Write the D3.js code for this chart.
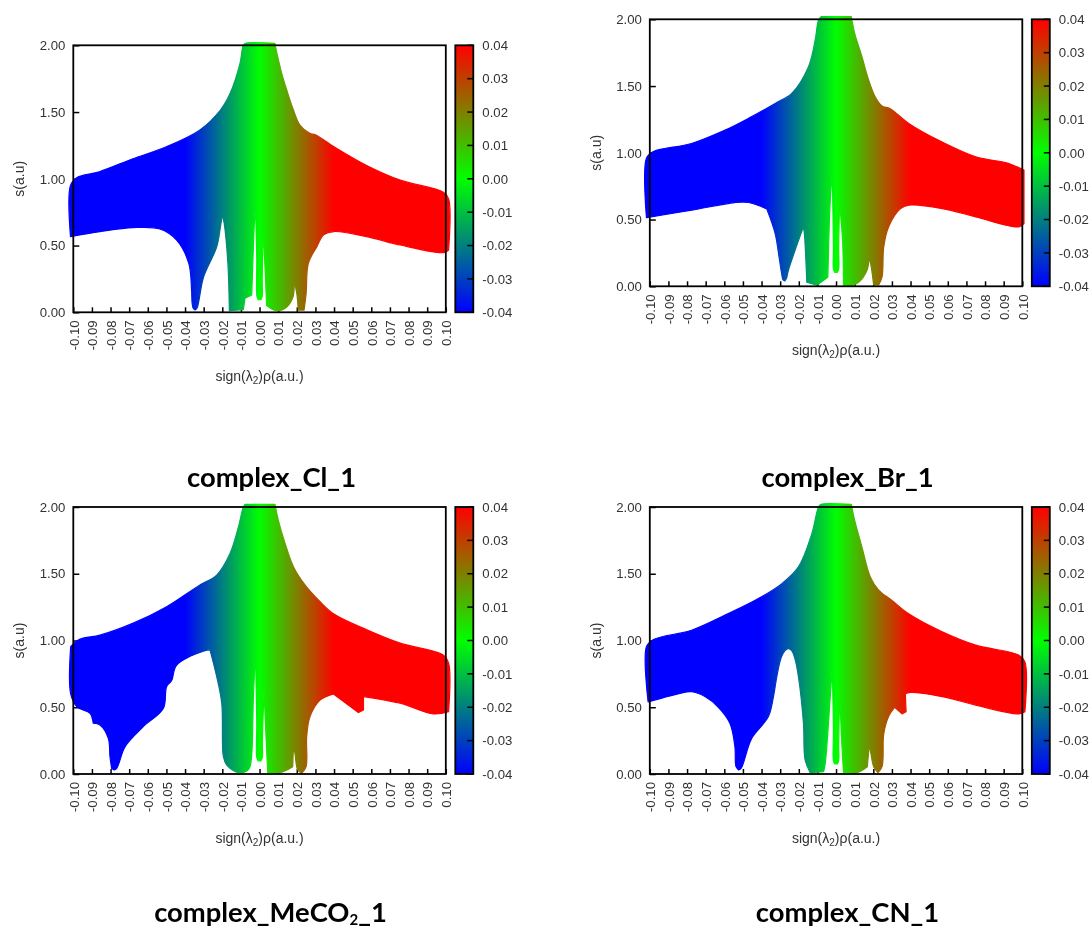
<!DOCTYPE html>
<html>
<head>
<meta charset="utf-8">
<title>complex NCI plots</title>
<script src="https://cdnjs.cloudflare.com/ajax/libs/d3/7.8.5/d3.min.js"></script>
<style>
body { margin: 0; background: #fff; }
svg { display: block; filter: blur(0.35px); }
.axis text { font-family: "Liberation Sans", Arial, sans-serif; font-size: 13.2px; fill: #333; }
.axis line { stroke: #000; stroke-width: 1.5; }
.axis path { display: none; }
.label { font-family: "Liberation Sans", Arial, sans-serif; font-size: 14px; fill: #333; }
.title { font-family: Lato, sans-serif; font-weight: 700; font-size: 27.4px; fill: #000; }
</style>
</head>
<body>
<svg id="chart" width="1089" height="927"></svg>
<script>
// ===== tick labels and palette =====
const xTicks = [-0.10,-0.09,-0.08,-0.07,-0.06,-0.05,-0.04,-0.03,-0.02,-0.01,0,0.01,0.02,0.03,0.04,0.05,0.06,0.07,0.08,0.09,0.10];
const yTicks = [0,0.5,1,1.5,2];
const cbTicks = [-0.04,-0.03,-0.02,-0.01,0,0.01,0.02,0.03,0.04];
const paletteValues = [-0.04,0,0.04];
const paletteColors = ["#0000ff","#00ff00","#ff0000"];

// ===== outline of each point cloud: [rho, s] =====
const clUpper = [[-0.1015,0.95],[-0.098,1.01],[-0.086,1.053],[-0.068,1.15],[-0.05,1.24],[-0.032,1.366],[-0.021,1.515],[-0.0158,1.64],[-0.0105,1.865],[-0.0087,2.0],[-0.0075,2.015],[0.0082,2.015],[0.0095,1.93],[0.0119,1.79],[0.0146,1.665],[0.0182,1.515],[0.0218,1.40],[0.027,1.34],[0.03,1.33],[0.04,1.24],[0.0575,1.10],[0.0755,0.99],[0.0987,0.90],[0.1015,0.85]];
const clLower = [[0.1015,0.467],[0.0987,0.447],[0.0755,0.504],[0.0575,0.567],[0.04,0.605],[0.0345,0.58],[0.0307,0.49],[0.0262,0.367],[0.025,0.14],[0.0239,0.017],[0.0208,0.017],[0.02,0.14],[0.0185,0.24],[0.018,0.117],[0.0146,0.04],[0.009,0.012],[0.0038,0.05],[0.0032,0.25],[0.002,0.62],[0.0014,0.25],[0.0014,0.12],[0.0007,0.095],[-0.0007,0.095],[-0.0014,0.12],[-0.0015,0.4],[-0.0022,0.82],[-0.003,0.6],[-0.0042,0.13],[-0.0078,0.105],[-0.0087,0.02],[-0.0162,0.012],[-0.017,0.367],[-0.019,0.667],[-0.02,0.73],[-0.021,0.64],[-0.023,0.49],[-0.03,0.267],[-0.0328,0.07],[-0.0336,0.03],[-0.0346,0.018],[-0.0356,0.03],[-0.0362,0.07],[-0.0365,0.167],[-0.038,0.367],[-0.0445,0.54],[-0.0535,0.624],[-0.068,0.634],[-0.0857,0.604],[-0.1015,0.567]];

const brUpper = [[-0.1018,0.96],[-0.098,1.01],[-0.0776,1.07],[-0.0596,1.17],[-0.047,1.258],[-0.0327,1.37],[-0.0238,1.445],[-0.0148,1.645],[-0.0112,1.845],[-0.0094,1.995],[-0.008,2.02],[0.0082,2.02],[0.01,1.895],[0.0139,1.72],[0.0175,1.545],[0.021,1.42],[0.0247,1.35],[0.0291,1.33],[0.039,1.22],[0.057,1.08],[0.075,0.97],[0.0928,0.92],[0.1009,0.87]];
const brLower = [[0.1009,0.47],[0.0982,0.445],[0.075,0.52],[0.057,0.5825],[0.039,0.6075],[0.0345,0.58],[0.0282,0.445],[0.0256,0.295],[0.0247,0.07],[0.0229,0.01],[0.0202,0.01],[0.0189,0.145],[0.0178,0.22],[0.0166,0.12],[0.0121,0.03],[0.0067,0.0],[0.004,0.0],[0.0035,0.345],[0.0019,0.62],[0.0014,0.295],[0.0014,0.13],[0.0007,0.105],[-0.0007,0.105],[-0.0014,0.13],[-0.0014,0.295],[-0.002,0.845],[-0.0031,0.645],[-0.0044,0.07],[-0.0067,0.045],[-0.0103,0.0075],[-0.0157,0.03],[-0.017,0.395],[-0.0175,0.445],[-0.022,0.27],[-0.0256,0.12],[-0.0266,0.06],[-0.0275,0.04],[-0.0285,0.05],[-0.0291,0.085],[-0.0306,0.22],[-0.0327,0.395],[-0.0372,0.58],[-0.047,0.6275],[-0.0543,0.6275],[-0.0776,0.57],[-0.1018,0.515]];

const mecoUpper = [[-0.1014,0.954],[-0.0964,1.01],[-0.0857,1.04],[-0.0678,1.13],[-0.0499,1.253],[-0.032,1.416],[-0.023,1.49],[-0.0158,1.653],[-0.0113,1.853],[-0.0087,2.0],[-0.0078,2.02],[0.0083,2.02],[0.0101,1.9],[0.0137,1.728],[0.0182,1.553],[0.0244,1.416],[0.0325,1.29],[0.0397,1.2],[0.0576,1.08],[0.0755,0.98],[0.0987,0.89],[0.1015,0.83]];
const mecoLower = [[0.1015,0.467],[0.0934,0.45],[0.0755,0.53],[0.0558,0.58],[0.0558,0.48],[0.0531,0.46],[0.0397,0.6],[0.0325,0.554],[0.0271,0.43],[0.0253,0.28],[0.025,0.055],[0.0226,0.005],[0.0205,0.03],[0.019,0.155],[0.0182,0.205],[0.0178,0.055],[0.011,0.01],[0.0044,0.01],[0.0038,0.18],[0.0024,0.63],[0.0015,0.23],[0.0015,0.125],[0.0007,0.098],[-0.0007,0.098],[-0.0015,0.125],[-0.0015,0.38],[-0.0022,0.93],[-0.0033,0.58],[-0.0051,0.055],[-0.0069,0.022],[-0.0114,0.01],[-0.0176,0.067],[-0.0194,0.13],[-0.0203,0.53],[-0.023,0.73],[-0.0266,0.93],[-0.0293,0.924],[-0.0445,0.816],[-0.0472,0.70],[-0.0499,0.654],[-0.0517,0.49],[-0.0624,0.355],[-0.0722,0.205],[-0.0755,0.08],[-0.0767,0.042],[-0.078,0.03],[-0.0794,0.042],[-0.0803,0.13],[-0.0812,0.267],[-0.0857,0.367],[-0.0893,0.38],[-0.091,0.454],[-0.098,0.504],[-0.1014,0.6]];

const cnUpper = [[-0.1018,0.953],[-0.098,1.007],[-0.0776,1.077],[-0.0596,1.19],[-0.0417,1.314],[-0.0291,1.426],[-0.0202,1.551],[-0.013,1.8],[-0.0094,2.0],[-0.008,2.02],[0.0082,2.02],[0.01,1.9],[0.0139,1.7],[0.0184,1.476],[0.0229,1.377],[0.03,1.3],[0.039,1.2],[0.057,1.065],[0.075,0.965],[0.0982,0.89],[0.1014,0.84]];
const cnLower = [[0.1014,0.466],[0.0982,0.45],[0.075,0.516],[0.057,0.58],[0.039,0.61],[0.0372,0.6],[0.0376,0.466],[0.0354,0.45],[0.0315,0.5],[0.0282,0.43],[0.0256,0.3],[0.0247,0.055],[0.0225,0.01],[0.0202,0.055],[0.0187,0.155],[0.0178,0.217],[0.0168,0.055],[0.0112,0.01],[0.004,0.01],[0.0031,0.23],[0.002,0.6],[0.0014,0.23],[0.0014,0.1],[0.0007,0.075],[-0.0007,0.075],[-0.0014,0.1],[-0.0014,0.33],[-0.002,0.8],[-0.0031,0.58],[-0.0058,0.08],[-0.0067,0.017],[-0.0139,0.01],[-0.0166,0.105],[-0.0175,0.38],[-0.0202,0.73],[-0.0222,0.87],[-0.0238,0.925],[-0.0256,0.94],[-0.0274,0.925],[-0.0295,0.87],[-0.0318,0.73],[-0.0336,0.58],[-0.0363,0.43],[-0.0453,0.267],[-0.0498,0.08],[-0.051,0.042],[-0.0523,0.03],[-0.0537,0.055],[-0.0543,0.205],[-0.057,0.38],[-0.0632,0.5],[-0.0704,0.58],[-0.0776,0.616],[-0.0848,0.6],[-0.1009,0.54]];

// ===== panels =====
const svg = d3.select("#chart");
const defs = svg.append("defs");
// plain hyphen on the tick labels, as in the gnuplot output
const fmt = d => d3.format(".2f")(d).replace("\u2212","-");

// catmull-rom rounds everything, so repeat the points where the outline really turns
function keepCorners(pts, xs, ys) {
    const out = [];
    pts.forEach((p,i) => {
        const a = pts[(i - 1 + pts.length) % pts.length], b = pts[(i + 1) % pts.length];
        const a1 = Math.atan2(ys(p[1]) - ys(a[1]), xs(p[0]) - xs(a[0]));
        const a2 = Math.atan2(ys(b[1]) - ys(p[1]), xs(b[0]) - xs(p[0]));
        let turn = Math.abs(a2 - a1) * 180 / Math.PI;
        if (turn > 180) turn = 360 - turn;
        out.push(p);
        if (turn > 50) out.push(p);
    });
    return out;
}

function drawPanel(id, left, top, upper, lower) {
    const width = 372.5, height = 267;
    const xs = d3.scaleLinear().domain([-0.1,0.1]).range([0,width]);
    const ys = d3.scaleLinear().domain([0,2]).range([height,0]);
    const cs = d3.scaleLinear().domain([-0.04,0.04]).range([height,0]);
    const g = svg.append("g").attr("transform", "translate("+left+","+top+")");

    // x-based colour, same palette as the colour box
    const grad = defs.append("linearGradient").attr("id", "grad-"+id)
        .attr("gradientUnits", "userSpaceOnUse")
        .attr("x1", xs(-0.04)).attr("x2", xs(0.04)).attr("y1", 0).attr("y2", 0);
    paletteValues.forEach((v,i) => grad.append("stop")
        .attr("offset", (v+0.04)/0.08).attr("stop-color", paletteColors[i]));

    const barGrad = defs.append("linearGradient").attr("id", "bar-"+id)
        .attr("x1", 0).attr("x2", 0).attr("y1", 1).attr("y2", 0);
    paletteValues.forEach((v,i) => barGrad.append("stop")
        .attr("offset", (v+0.04)/0.08).attr("stop-color", paletteColors[i]));

    // axes go under the cloud, the frame over it
    g.append("g").attr("class","axis")
        .attr("transform","translate(0,"+height+")")
        .call(d3.axisBottom(xs).tickValues(xTicks).tickSize(-5).tickPadding(8).tickFormat(fmt))
        .selectAll("text")
        .attr("text-anchor","end")
        .attr("transform","rotate(-90)")
        .attr("x",-8).attr("y",0).attr("dy","0.36em");

    g.append("g").attr("class","axis")
        .call(d3.axisLeft(ys).tickValues(yTicks).tickSize(-6).tickPadding(8).tickFormat(fmt));

    const line = d3.line().x(d => xs(d[0])).y(d => ys(d[1]))
        .curve(d3.curveCatmullRomClosed.alpha(0.5));
    g.append("path")
        .attr("d", line(keepCorners(upper.concat(lower), xs, ys)))
        .attr("fill", "url(#grad-"+id+")")
        .attr("stroke", "url(#grad-"+id+")")
        .attr("stroke-width", 1.2)
        .attr("stroke-linejoin", "round");

    g.append("rect").attr("width",width).attr("height",height)
        .attr("fill","none").attr("stroke","#000").attr("stroke-width",1.8);

    // colour box
    const bar = g.append("g").attr("transform","translate("+(width+9.5)+",0)");
    bar.append("g").attr("class","axis")
        .attr("transform","translate(18,0)")
        .call(d3.axisRight(cs).tickValues(cbTicks).tickSize(0).tickPadding(9).tickFormat(fmt));
    bar.append("rect").attr("width",18).attr("height",height)
        .attr("fill","url(#bar-"+id+")").attr("stroke","#000").attr("stroke-width",1.8);
    bar.selectAll("line.cbtick").data(cbTicks).join("line").attr("class","cbtick")
        .attr("x1",12).attr("x2",18).attr("y1",d => cs(d)).attr("y2",d => cs(d))
        .attr("stroke","#000").attr("stroke-width",1.5);

    // axis names
    g.append("text").attr("class","label")
        .attr("text-anchor","middle")
        .attr("transform","translate(-49,"+(height/2)+") rotate(-90)")
        .text("s(a.u)");
    const xl = g.append("text").attr("class","label")
        .attr("text-anchor","middle")
        .attr("x",width/2).attr("y",height+69);
    xl.append("tspan").text("sign(λ");
    xl.append("tspan").attr("dy",3).attr("font-size",10).text("2");
    xl.append("tspan").attr("dy",-3).text(")ρ(a.u.)");
}

drawPanel("cl", 73.3, 45.3, clUpper, clLower);
drawPanel("br", 649.8, 19.3, brUpper, brLower);
drawPanel("meco", 73.3, 507, mecoUpper, mecoLower);
drawPanel("cn", 649.8, 507, cnUpper, cnLower);

// ===== titles =====
function title(cx, y, parts) {
    const t = svg.append("text").attr("class","title").attr("text-anchor","middle").attr("x",cx).attr("y",y);
    parts.forEach(p => {
        const s = t.append("tspan").text(p.text);
        if (p.sub) s.attr("dy",2.5).attr("font-size",15);
        if (p.back) s.attr("dy",-2.5);
    });
}
title(271.5, 486.5, [{text:"complex_Cl_1"}]);
title(847.5, 486.5, [{text:"complex_Br_1"}]);
title(270.5, 922, [{text:"complex_MeCO"},{text:"2",sub:true},{text:"_1",back:true}]);
title(847.5, 922, [{text:"complex_CN_1"}]);
</script>
</body>
</html>
